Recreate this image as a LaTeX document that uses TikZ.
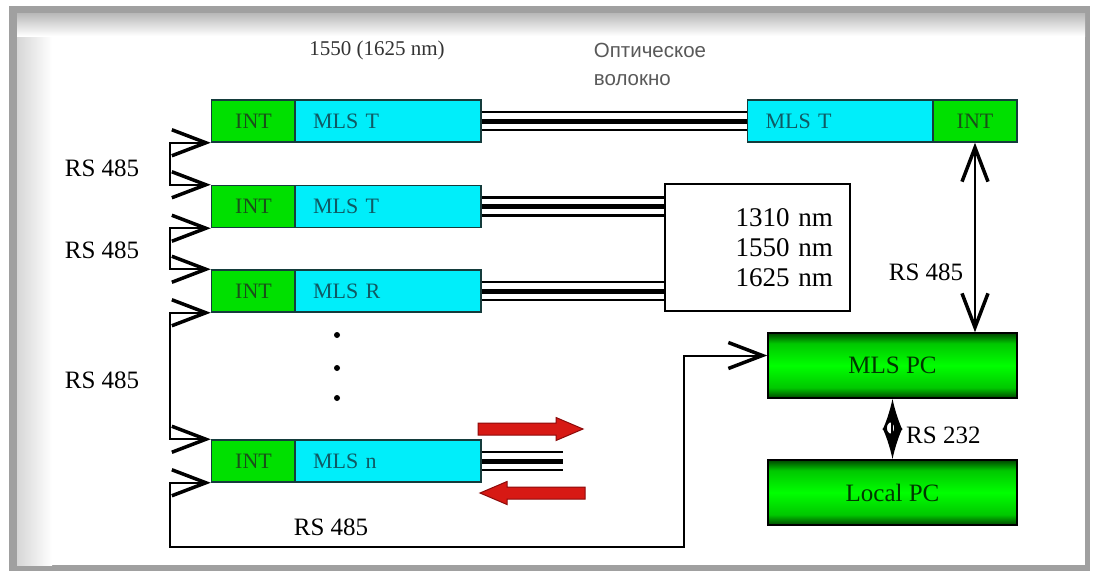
\documentclass[tikz,border=0pt]{standalone}
\usepackage{fontspec}
\setmainfont{Liberation Serif}
\newfontfamily\cyrsans{Liberation Sans}
\usetikzlibrary{arrows.meta,calc}
\definecolor{intgreen}{RGB}{0,224,0}
\definecolor{mlscyan}{RGB}{0,238,250}
\definecolor{boxedge}{RGB}{20,60,60}
\definecolor{inttext}{RGB}{25,80,25}
\definecolor{mlstext}{RGB}{15,90,100}
\definecolor{pcdark}{RGB}{0,70,0}
\definecolor{pcmid}{RGB}{0,200,0}
\definecolor{pclight}{RGB}{0,255,0}
\definecolor{pctext}{RGB}{0,55,0}
\definecolor{framegray}{RGB}{160,160,160}
\definecolor{redarr}{RGB}{215,25,20}
\definecolor{redarredge}{RGB}{140,10,10}
\pgfdeclareverticalshading{pcshade}{100bp}{color(0bp)=(pcdark); color(25bp)=(pcdark); color(33bp)=(pcmid); color(50bp)=(pclight); color(67bp)=(pcmid); color(75bp)=(pcdark); color(100bp)=(pcdark)}
\begin{document}
\begin{tikzpicture}[x=1pt,y=-1pt,
  >={Straight Barb[length=34pt,width=26pt,line width=3.5pt]},
  intbox/.style={fill=intgreen,draw=boxedge,line width=1.5pt,minimum width=84pt,minimum height=42pt,inner sep=0pt,font=\fontsize{22}{24}\selectfont,text=inttext},
  mlsbox/.style={fill=mlscyan,draw=boxedge,line width=1.5pt,minimum height=42pt,inner xsep=18pt,inner ysep=0pt,text width=150pt,align=left,font=\fontsize{22}{24}\selectfont,text=mlstext},
  wavebox/.style={fill=white,draw=black,line width=1.5pt,minimum width=185pt,minimum height=127pt,inner xsep=17pt,text width=151pt,align=right,font=\fontsize{27}{30}\selectfont},
  pcbox/.style={shading=pcshade,draw=black,line width=1.5pt,minimum width=249pt,minimum height=65pt,font=\fontsize{25}{28}\selectfont,text=pctext},
  lbl/.style={inner sep=0pt,font=\fontsize{25}{28}\selectfont},
  conn/.style={line width=2pt,draw=black},
  redarrow/.style={fill=redarr,draw=redarredge,line width=1pt,line join=miter}
]
\useasboundingbox (0,0) rectangle (1093,571);
% frame
\fill[white] (0,0) rectangle (1093,571);
\fill[framegray] (9,6) rectangle (1090,571);
\fill[white] (17,13) rectangle (1085,565);
\shade[left color=black!16,right color=white] (17,13) rectangle (52,565);
\shade[top color=black!28,bottom color=white] (17,13) rectangle (1085,36);

% top labels
\node[font=\fontsize{21}{24}\selectfont,text=black!80] (wl) at (377,50) {1550 (1625 nm)};
\node[font=\cyrsans\fontsize{20.5}{28}\selectfont,text=black!65,align=left] (fib) at (650,64) {Оптическое\\волокно};

% rows
\node[intbox] (int1) at (253.5,121) {INT};
\node[mlsbox] (mls1) at (388,121) {MLS T};
\node[intbox] (int2) at (253.5,206.5) {INT};
\node[mlsbox] (mls2) at (388,206.5) {MLS T};
\node[intbox] (int3) at (253.5,291) {INT};
\node[mlsbox] (mls3) at (388,291) {MLS R};
\node[intbox] (intn) at (253.5,461) {INT};
\node[mlsbox] (mlsn) at (388,461) {MLS n};

\node[mlsbox] (mlsR) at (840.5,121) {MLS T};
\node[intbox] (intR) at (975,121) {INT};

\node[wavebox] (wave) at (757.5,247.5) {1310 nm\\1550 nm\\1625 nm};

\node[pcbox] (mlspc) at (892.5,365.5) {MLS PC};
\node[pcbox] (localpc) at (892.5,492.5) {Local PC};

% fibers
\coordinate (w2) at (mls2.east -| wave.west);
\coordinate (w3) at (mls3.east -| wave.west);
\coordinate (stubend) at (563,461);
\foreach \o/\w in {-9/2.5,0/5,9/2.5}{
  \draw[line width=\w pt] ([yshift=\o pt]mls1.east) -- ([yshift=\o pt]mlsR.west);
  \draw[line width=\w pt] ([yshift=\o pt]mls2.east) -- ([yshift=\o pt]w2);
  \draw[line width=\w pt] ([yshift=\o pt]mls3.east) -- ([yshift=\o pt]w3);
  \draw[line width=\w pt] ([yshift=\o pt]mlsn.east) -- ([yshift=\o pt]stubend);
}

% dots
\fill (337,335) circle (3);
\fill (337,368) circle (3);
\fill (337,398) circle (3);

% red arrows
\draw[redarrow] (478,423) -- (556,423) -- (556,417.5) -- (583,429) -- (556,440.5) -- (556,435) -- (478,435) -- cycle;
\draw[redarrow] (585,487) -- (507,487) -- (507,481.5) -- (480,493) -- (507,504.5) -- (507,499) -- (585,499) -- cycle;

% RS485 connectors
\draw[conn,<->] (int1.south west) -- ++(-41,0) |- (int2.north west);
\draw[conn,<->] (int2.south west) -- ++(-41,0) |- (int3.north west);
\draw[conn,<->] (int3.south west) -- ++(-41,0) |- (intn.north west);
\draw[conn,<->] (intn.south west) -- ++(-41,0) -- ++(0,64) -- ++(514,0) |- ([yshift=10pt]mlspc.west);
\draw[conn,<->] (intR.south) -- (intR.south |- mlspc.north);
\draw[conn,{Latex[length=31pt,width=20pt]}-{Latex[length=31pt,width=20pt]}] (mlspc.south) -- (localpc.north);
\draw[line width=1.8pt,fill=white] (890.5,428) ellipse (4.5 and 6.5);
\draw[line width=1.5pt] (892,422) -- (892,434);

% labels
\node[lbl] (l1) at (102,168) {RS 485};
\node[lbl] (l2) at (102,250) {RS 485};
\node[lbl] (l3) at (102,380) {RS 485};
\node[lbl] (l4) at (331,527) {RS 485};
\node[lbl] (l5) at (926,272) {RS 485};
\node[lbl,anchor=west] (l6) at (906,435) {RS 232};
\end{tikzpicture}
\end{document}
